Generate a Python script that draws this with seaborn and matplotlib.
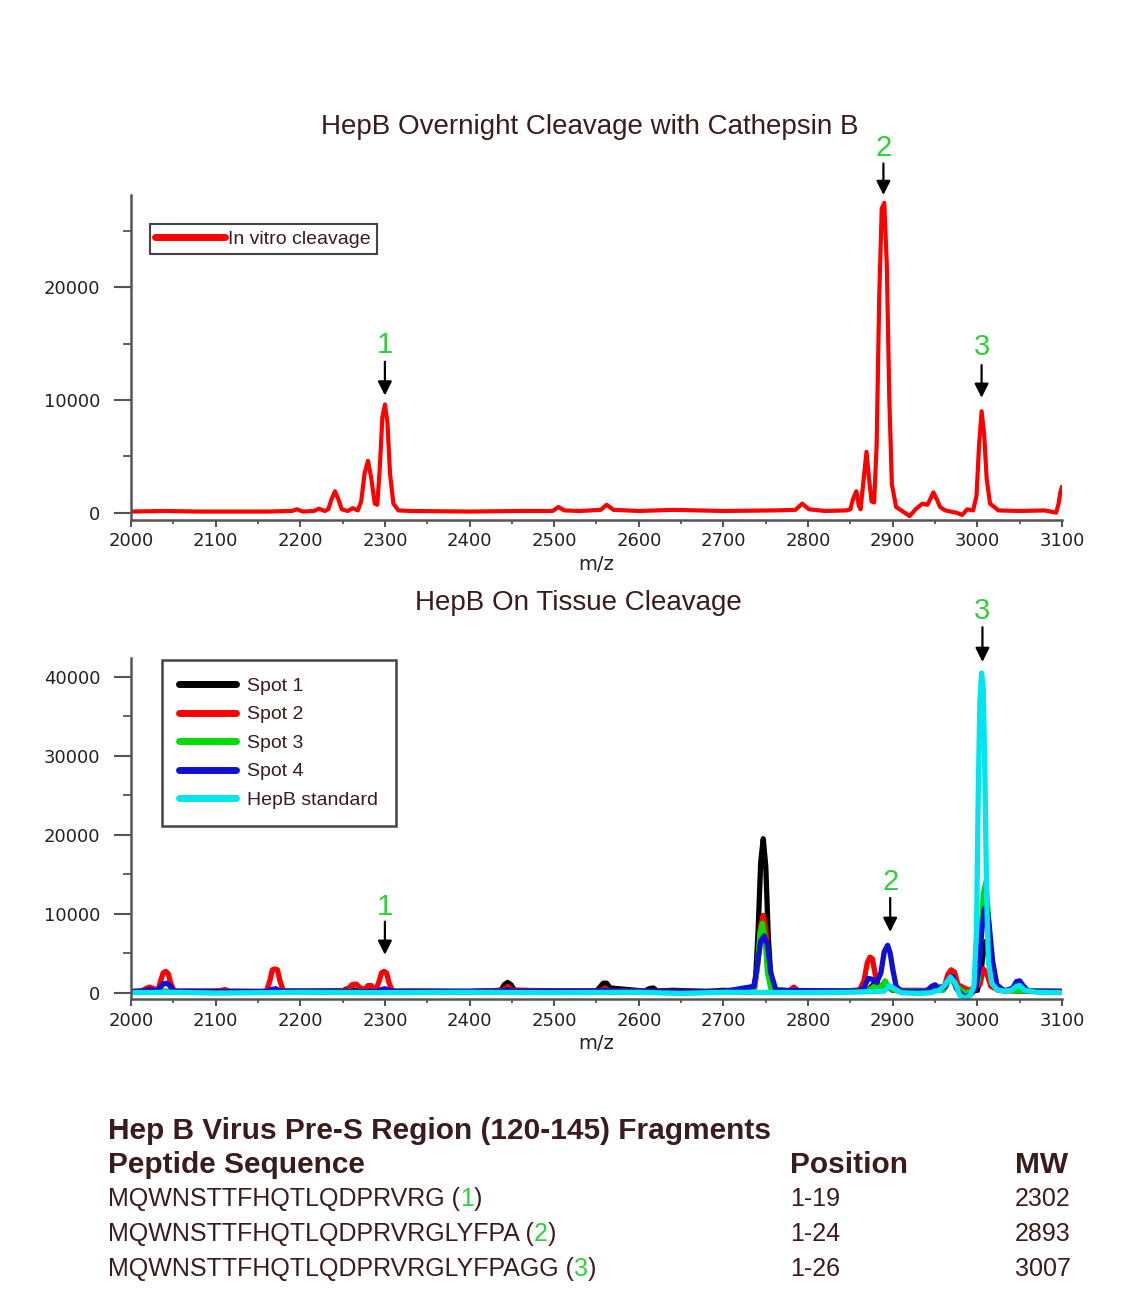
import numpy as np
import pandas as pd
import matplotlib
matplotlib.use("Agg")
import matplotlib.pyplot as plt
from matplotlib.ticker import MultipleLocator, FuncFormatter
import seaborn as sns

# ---------------- data ----------------
TOP_TITLE = "HepB Overnight Cleavage with Cathepsin B"
BOTTOM_TITLE = "HepB On Tissue Cleavage"
X_LABEL = "m/z"

INVITRO_MZ = [2000, 2040, 2080, 2120, 2160, 2190, 2196, 2203, 2216, 2222, 2229,
              2233, 2237, 2241, 2245, 2249, 2256, 2262, 2268,
              2272, 2276, 2280, 2284, 2288, 2291, 2294, 2297, 2300, 2303, 2306,
              2310, 2316, 2330, 2400, 2460, 2498, 2505, 2512, 2530, 2555, 2562,
              2570, 2600, 2640, 2700, 2760, 2785, 2793, 2801, 2820, 2845,
              2850, 2853, 2857, 2860, 2862, 2865, 2869, 2872, 2875, 2878, 2881,
              2884, 2887, 2890, 2893, 2896, 2899, 2904, 2912, 2920, 2927, 2935,
              2941, 2945, 2948, 2952, 2956, 2962, 2968, 2975, 2982, 2988, 2995,
              2999, 3002, 3005, 3008, 3011, 3015, 3025, 3050, 3080, 3093, 3096,
              3098, 3100]
INVITRO_I = [100, 150, 100, 100, 100, 150, 300, 100, 150, 350, 150,
             300, 1200, 1900, 1200, 300, 150, 400, 200,
             1000, 3500, 4600, 3000, 800, 700, 4000, 8500, 9600, 8000, 3500,
             800, 200, 150, 100, 150, 150, 500, 200, 150, 250, 700,
             250, 150, 250, 150, 200, 250, 800, 300, 150, 200,
             300, 1200, 1900, 600, 300, 2500, 5400, 3000, 1000, 900, 6000,
             19000, 27000, 27500, 22000, 10000, 2500, 500, 100, -300, 300, 800,
             700, 1300, 1800, 1200, 500, 200, 100, 0, -200, 300, 200,
             1500, 6000, 9000, 7000, 3000, 800, 200, 150, 200, 0, 800,
             1800, 2300]

SPOT1_MZ = [2000, 2015, 2020, 2026, 2060, 2100, 2150, 2200, 2250, 2258, 2264,
            2300, 2350, 2400, 2437, 2441, 2445, 2449, 2453, 2500, 2550, 2554,
            2558, 2562, 2566, 2607, 2612, 2617, 2622, 2640, 2680, 2700, 2730,
            2735, 2738, 2741, 2744, 2747, 2750, 2753, 2756, 2761, 2778, 2783,
            2788, 2840, 2872, 2878, 2884, 2893, 2900, 2940, 2963, 2967, 2971,
            2975, 2990, 3000, 3004, 3007, 3010, 3013, 3017, 3025, 3060, 3100]
SPOT1_I = [150, 200, 350, 200, 150, 200, 150, 200, 250, 600, 300,
           200, 200, 150, 300, 1000, 1300, 1000, 300, 200, 200, 700,
           1200, 1200, 600, 200, 500, 600, 200, 300, 150, 300, 200,
           400, 1800, 8000, 16500, 19500, 16000, 7000, 1800, 300, 200, 600,
           200, 200, 400, 1200, 400, 800, 300, 200, 900, 2300, 2000,
           600, 200, 300, 2000, 5500, 6500, 4500, 1500, 300, 200, 150]

SPOT2_MZ = [2000, 2012, 2017, 2022, 2027, 2032, 2035, 2038, 2041, 2044, 2047,
            2051, 2100, 2107, 2111, 2116, 2160, 2164, 2167, 2170, 2173, 2176,
            2180, 2240, 2255, 2261, 2266, 2271, 2276, 2280, 2284, 2289, 2293,
            2296, 2299, 2302, 2305, 2309, 2400, 2440, 2445, 2450, 2555, 2560,
            2565, 2700, 2737, 2741, 2744, 2747, 2750, 2753, 2757, 2778, 2783,
            2789, 2860, 2866, 2870, 2873, 2876, 2879, 2883, 2888, 2893, 2900,
            2950, 2961, 2965, 2969, 2973, 2977, 2990, 3003, 3007, 3011, 3016,
            3025, 3100]
SPOT2_I = [100, 150, 500, 700, 500, 300, 1500, 2500, 2700, 2400, 1200,
           200, 150, 300, 400, 150, 150, 1500, 2900, 3000, 2900, 1500,
           200, 150, 300, 1000, 1100, 600, 400, 900, 900, 300, 1400,
           2500, 2700, 2500, 1200, 150, 150, 300, 800, 300, 200, 600,
           200, 150, 600, 4000, 8500, 9800, 8000, 3500, 500, 200, 700,
           200, 200, 1500, 3800, 4500, 4300, 2500, 900, 700, 1000, 300,
           300, 700, 2300, 2900, 2600, 1000, 300, 1000, 3000, 2500, 800,
           300, 150]

SPOT3_MZ = [2000, 2100, 2200, 2300, 2400, 2500, 2600, 2700, 2736, 2740, 2743,
            2746, 2749, 2752, 2756, 2780, 2870, 2878, 2885, 2891, 2896, 2905,
            2960, 2965, 2969, 2974, 2985, 2995, 3001, 3004, 3007, 3010, 3013,
            3016, 3020, 3028, 3100]
SPOT3_I = [150, 100, 150, 150, 100, 150, 100, 150, 500, 3000, 7500,
           8800, 7000, 2500, 500, 200, 200, 800, 600, 1500, 600, 200,
           300, 1500, 1800, 900, 0, 200, 1500, 7000, 12500, 14000, 10000,
           4000, 1000, 300, 150]

SPOT4_MZ = [2000, 2015, 2022, 2030, 2034, 2038, 2042, 2046, 2050, 2100, 2160,
            2166, 2171, 2176, 2240, 2290, 2296, 2300, 2305, 2312, 2440, 2445,
            2450, 2556, 2560, 2565, 2700, 2736, 2740, 2744, 2748, 2752, 2756,
            2762, 2860, 2866, 2871, 2876, 2881, 2886, 2890, 2894, 2897, 2900,
            2904, 2910, 2940, 2946, 2950, 2955, 2962, 2967, 2971, 2976, 2985,
            2992, 2998, 3002, 3005, 3008, 3011, 3014, 3018, 3023, 3032, 3042,
            3046, 3050, 3054, 3060, 3100]
SPOT4_I = [150, 200, 400, 200, 600, 1100, 1200, 900, 200, 150, 150,
           400, 500, 200, 150, 150, 400, 500, 300, 150, 200, 400,
           200, 200, 300, 200, 150, 800, 3500, 6500, 7200, 6000, 2500,
           300, 200, 600, 1800, 1700, 1300, 2500, 5200, 6000, 5000, 3000,
           800, 200, 200, 800, 1000, 500, 700, 2000, 2000, 400, -600,
           -200, 500, 3000, 7500, 10500, 11000, 8500, 4000, 1000, 200, 600,
           1400, 1500, 900, 200, 150]

STANDARD_MZ = [2000, 2050, 2100, 2200, 2300, 2400, 2500, 2600, 2650, 2700, 2800,
               2850, 2890, 2896, 2902, 2910, 2930, 2945, 2955, 2962, 2968, 2974,
               2979, 2985, 2991, 2996, 2999, 3001, 3003, 3005, 3007, 3009, 3011,
               3013, 3017, 3023, 3030, 3040, 3046, 3050, 3056, 3070, 3100]
STANDARD_I = [0, 50, -50, 50, 0, 50, 0, 50, -100, 50, 0,
              50, 200, 900, 500, 0, -100, 0, 300, 1000, 2000, 1200,
              -300, -700, -400, 800, 8000, 25000, 37000, 40500, 38500, 27000, 12000,
              4000, 1200, 400, 200, 300, 800, 900, 300, 50, 0]

TISSUE_SERIES = ["Spot 1", "Spot 2", "Spot 3", "Spot 4", "HepB standard"]
TISSUE_MZ = [SPOT1_MZ, SPOT2_MZ, SPOT3_MZ, SPOT4_MZ, STANDARD_MZ]
TISSUE_I = [SPOT1_I, SPOT2_I, SPOT3_I, SPOT4_I, STANDARD_I]
TISSUE_COLORS = ["#000000", "#ff0000", "#00dd00", "#1010d0", "#00e5f0"]

# fragment labels: (number, m/z position, label height, arrow start, arrow tip)
TOP_MARKS = [("1", 2300, 14900, 13400, 10400),
             ("2", 2889, 32400, 31000, 28200),
             ("3", 3005, 14700, 13100, 10200)]
BOTTOM_MARKS = [("1", 2300, 10900, 9000, 4800),
                ("2", 2897, 14000, 12000, 7700),
                ("3", 3006, 48300, 46300, 41900)]

TABLE_TITLE = "Hep B Virus Pre-S Region (120-145) Fragments"
TABLE_HEADERS = ["Peptide Sequence", "Position", "MW"]
PEPTIDES = ["MQWNSTTFHQTLQDPRVRG", "MQWNSTTFHQTLQDPRVRGLYFPA",
            "MQWNSTTFHQTLQDPRVRGLYFPAGG"]
PEPTIDE_IDS = ["1", "2", "3"]
POSITIONS = ["1-19", "1-24", "1-26"]
MW = ["2302", "2893", "3007"]

# ---------------- style ----------------
sns.set_theme(style="white")
plt.rcParams["font.family"] = ["Liberation Sans", "DejaVu Sans"]

TEXT_COLOR = "#3b1c1c"
GREEN = "#2fcf3a"
SPINE_COLOR = "#555555"

W, H = 1145, 1308
fig = plt.figure(figsize=(W / 100, H / 100), dpi=100)
fig.patch.set_facecolor("white")


def axes_px(x0, y0, x1, y1):
    return fig.add_axes([x0 / W, 1 - y1 / H, (x1 - x0) / W, (y1 - y0) / H])


def style_axes(ax, ylim, ymajor):
    ax.set_xlim(2000, 3100)
    ax.set_ylim(*ylim)
    for side in ("top", "right"):
        ax.spines[side].set_visible(False)
    for side in ("left", "bottom"):
        ax.spines[side].set_color(SPINE_COLOR)
        ax.spines[side].set_linewidth(1.8)
    ax.xaxis.set_major_locator(MultipleLocator(100))
    ax.xaxis.set_minor_locator(MultipleLocator(50))
    ax.yaxis.set_major_locator(MultipleLocator(ymajor))
    ax.yaxis.set_minor_locator(MultipleLocator(ymajor / 2))
    ax.yaxis.set_major_formatter(FuncFormatter(lambda v, p: f"{int(v)}"))
    ax.tick_params(axis="y", which="major", direction="out", length=12, width=1.5,
                   color=SPINE_COLOR, labelsize=13, pad=10, labelcolor="#222222",
                   left=True)
    ax.tick_params(axis="y", which="minor", direction="out", length=6, width=1.3,
                   color=SPINE_COLOR, left=True)
    ax.tick_params(axis="x", which="major", direction="out", length=5, width=1.5,
                   color=SPINE_COLOR, labelsize=13, pad=4, labelcolor="#222222",
                   bottom=True)
    ax.tick_params(axis="x", which="minor", direction="out", length=3, width=1.3,
                   color=SPINE_COLOR, bottom=True)
    for lab in ax.get_xticklabels() + ax.get_yticklabels():
        lab.set_family("DejaVu Sans")
    ax.set_xlabel(X_LABEL, fontsize=14, color="#222222", labelpad=3,
                  family="DejaVu Sans")
    ax.set_ylabel("")
    ax.grid(False)
    ax.set_facecolor("white")


def add_marks(ax, marks):
    for num, mz, ylab, y0, y1 in marks:
        ax.text(mz, ylab, num, color=GREEN, fontsize=21, ha="center",
                va="center", clip_on=False)
        ax.annotate("", xy=(mz, y1), xytext=(mz, y0),
                    arrowprops=dict(arrowstyle="-|>,head_width=0.35,head_length=0.7",
                                    color="black", lw=1.6,
                                    shrinkA=0, shrinkB=0),
                    annotation_clip=False)


def style_legend(leg, lw):
    leg.get_frame().set_edgecolor("#151515")
    leg.get_frame().set_linewidth(lw)
    for t in leg.get_texts():
        t.set_color(TEXT_COLOR)


# ---------------- top panel ----------------
ax1 = axes_px(131, 195, 1062, 520)
top_df = pd.DataFrame({"mz": INVITRO_MZ, "intensity": INVITRO_I,
                       "series": "In vitro cleavage"})
sns.lineplot(data=top_df, x="mz", y="intensity", hue="series",
             palette=["#ff0000"], estimator=None, sort=False, linewidth=3.0,
             ax=ax1)
style_axes(ax1, (-650, 28200), 10000)
handles, labels = ax1.get_legend_handles_labels()
for h in handles:
    h.set_linewidth(5)
leg1 = ax1.legend(handles, labels, loc="upper left", bbox_to_anchor=(0.02, 0.91),
                  frameon=True, fancybox=False, fontsize=14, handlelength=3.6,
                  handletextpad=0.15, borderpad=0.3, borderaxespad=0)
style_legend(leg1, 1.5)
add_marks(ax1, TOP_MARKS)
fig.text(590 / W, 1 - 127 / H, TOP_TITLE, ha="center", va="center",
         fontsize=20, color=TEXT_COLOR)

# ---------------- bottom panel ----------------
ax2 = axes_px(131, 658, 1062, 999)
tissue_df = pd.concat(
    [pd.DataFrame({"mz": mz, "intensity": inten, "series": name})
     for name, mz, inten in zip(TISSUE_SERIES, TISSUE_MZ, TISSUE_I)],
    ignore_index=True)
sns.lineplot(data=tissue_df, x="mz", y="intensity", hue="series",
             hue_order=TISSUE_SERIES, palette=TISSUE_COLORS, estimator=None,
             sort=False, linewidth=3.8, ax=ax2)
style_axes(ax2, (-800, 42400), 10000)
handles, labels = ax2.get_legend_handles_labels()
for h in handles:
    h.set_linewidth(5)
leg2 = ax2.legend(handles, labels, loc="upper left", bbox_to_anchor=(0.033, 0.995),
                  frameon=True, fancybox=False, fontsize=14, handlelength=2.9,
                  handletextpad=0.6, borderpad=0.9, labelspacing=0.56,
                  borderaxespad=0)
style_legend(leg2, 1.8)
add_marks(ax2, BOTTOM_MARKS)
fig.text(578 / W, 1 - 603 / H, BOTTOM_TITLE, ha="center", va="center",
         fontsize=20, color=TEXT_COLOR)

# ---------------- fragment table ----------------
BOLD_SIZE = 21.5
ROW_SIZE = 18
fig.text(108 / W, 1 - 1131 / H, TABLE_TITLE, ha="left", va="center",
         fontsize=BOLD_SIZE, fontweight="bold", color=TEXT_COLOR)
for label, x in zip(TABLE_HEADERS, [108, 790, 1015]):
    fig.text(x / W, 1 - 1165 / H, label, ha="left", va="center",
             fontsize=BOLD_SIZE, fontweight="bold", color=TEXT_COLOR)

for i, (pep, pid, pos, mw) in enumerate(zip(PEPTIDES, PEPTIDE_IDS, POSITIONS, MW)):
    y = 1 - (1199 + 35 * i) / H
    t0 = fig.text(108 / W, y, pep + " (", ha="left", va="center",
                  fontsize=ROW_SIZE, color=TEXT_COLOR)
    a1 = fig.axes[0].annotate(pid, xy=(1, 0), xycoords=t0, ha="left",
                              va="bottom", fontsize=ROW_SIZE, color=GREEN,
                              annotation_clip=False)
    fig.axes[0].annotate(")", xy=(1, 0), xycoords=a1, ha="left", va="bottom",
                         fontsize=ROW_SIZE, color=TEXT_COLOR,
                         annotation_clip=False)
    fig.text(790 / W, y, pos, ha="left", va="center", fontsize=ROW_SIZE,
             color=TEXT_COLOR)
    fig.text(1015 / W, y, mw, ha="left", va="center", fontsize=ROW_SIZE,
             color=TEXT_COLOR)

fig.savefig("out.png", dpi=100, facecolor="white")
